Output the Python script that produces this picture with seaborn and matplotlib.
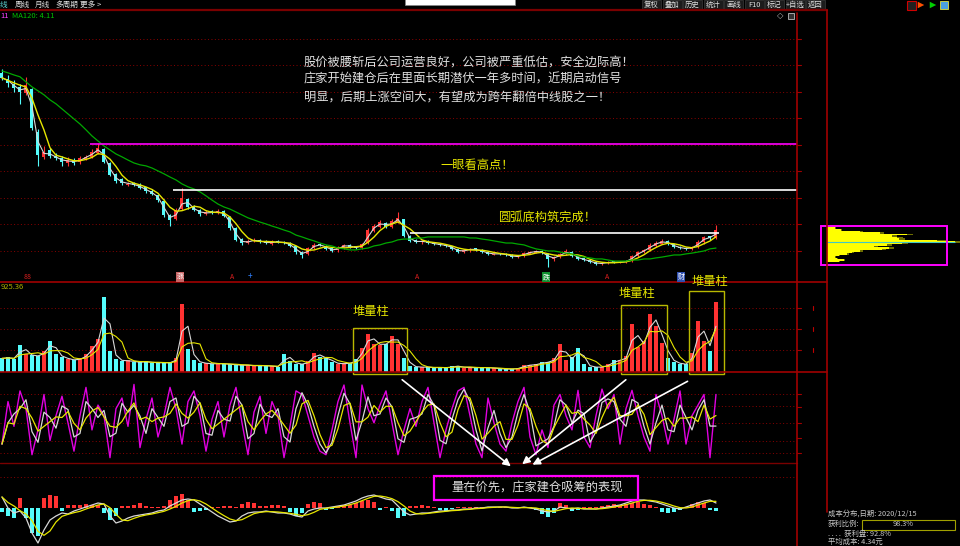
import numpy as np
import pandas as pd
import matplotlib
matplotlib.use("Agg")
import matplotlib.pyplot as plt
from matplotlib.patches import Rectangle
import seaborn as sns

# daily bars (yuan)
opens = [10.70, 10.50, 10.30, 10.20, 9.95, 10.10, 8.50, 7.55, 7.80, 7.60,
         7.50, 7.30, 7.45, 7.35, 7.48, 7.55, 7.70, 7.85, 7.30, 6.90,
         6.70, 6.50, 6.58, 6.50, 6.40, 6.28, 6.10, 5.90, 5.35, 5.20,
         5.60, 5.95, 5.70, 5.55, 5.40, 5.50, 5.45, 5.50, 5.30, 4.85,
         4.45, 4.30, 4.36, 4.42, 4.36, 4.28, 4.38, 4.35, 4.30, 4.18,
         3.98, 3.88, 4.10, 4.25, 4.20, 4.10, 4.02, 4.12, 4.22, 4.18,
         4.12, 4.30, 4.75, 4.90, 5.05, 4.92, 5.10, 5.20, 4.55, 4.40,
         4.32, 4.38, 4.32, 4.28, 4.24, 4.18, 4.06, 3.96, 4.02, 4.10,
         4.04, 3.96, 3.86, 3.92, 3.90, 3.86, 3.76, 3.80, 3.90, 3.94,
         4.00, 3.90, 3.68, 3.76, 3.88, 3.98, 3.80, 3.72, 3.66, 3.58,
         3.50, 3.54, 3.60, 3.56, 3.58, 3.62, 3.80, 3.95, 4.02, 4.20,
         4.28, 4.36, 4.25, 4.16, 4.12, 4.08, 4.14, 4.32, 4.55, 4.48]
closes = [10.53, 10.34, 10.15, 10.00, 10.26, 8.64, 7.62, 7.74, 7.58, 7.51,
          7.36, 7.43, 7.32, 7.51, 7.55, 7.74, 7.89, 7.36, 6.87, 6.64,
          6.57, 6.53, 6.49, 6.38, 6.26, 6.15, 5.92, 5.36, 5.17, 5.55,
          6.00, 5.66, 5.55, 5.40, 5.47, 5.43, 5.51, 5.32, 4.87, 4.42,
          4.30, 4.38, 4.42, 4.34, 4.30, 4.34, 4.34, 4.30, 4.19, 3.96,
          3.85, 4.11, 4.23, 4.23, 4.08, 4.00, 4.15, 4.23, 4.15, 4.11,
          4.26, 4.79, 4.94, 5.09, 4.91, 5.13, 5.25, 4.57, 4.38, 4.34,
          4.38, 4.30, 4.26, 4.23, 4.19, 4.08, 3.96, 4.04, 4.08, 4.04,
          3.96, 3.89, 3.89, 3.89, 3.85, 3.77, 3.81, 3.92, 3.96, 4.00,
          3.92, 3.70, 3.77, 3.89, 4.00, 3.81, 3.70, 3.66, 3.58, 3.51,
          3.55, 3.58, 3.58, 3.58, 3.62, 3.81, 3.96, 4.04, 4.23, 4.30,
          4.38, 4.26, 4.15, 4.11, 4.08, 4.15, 4.34, 4.53, 4.49, 4.79]
highs = [10.85, 10.62, 10.45, 10.30, 10.55, 10.15, 8.60, 7.95, 7.90, 7.70,
         7.60, 7.55, 7.52, 7.60, 7.62, 7.85, 8.08, 7.88, 7.35, 6.95,
         6.75, 6.62, 6.62, 6.55, 6.42, 6.32, 6.12, 5.95, 5.40, 5.62,
         6.38, 5.98, 5.75, 5.60, 5.55, 5.56, 5.58, 5.55, 5.33, 4.90,
         4.48, 4.45, 4.50, 4.46, 4.40, 4.42, 4.42, 4.38, 4.33, 4.20,
         4.00, 4.15, 4.30, 4.30, 4.24, 4.13, 4.20, 4.28, 4.26, 4.20,
         4.30, 4.85, 5.00, 5.15, 5.10, 5.20, 5.47, 5.22, 4.60, 4.44,
         4.42, 4.41, 4.35, 4.30, 4.27, 4.20, 4.08, 4.08, 4.12, 4.12,
         4.06, 3.98, 3.93, 3.94, 3.92, 3.88, 3.84, 3.95, 4.00, 4.04,
         4.02, 3.92, 3.80, 3.92, 4.06, 4.00, 3.82, 3.74, 3.68, 3.60,
         3.58, 3.62, 3.63, 3.61, 3.66, 3.85, 4.00, 4.08, 4.30, 4.36,
         4.45, 4.40, 4.28, 4.18, 4.15, 4.18, 4.40, 4.58, 4.58, 4.98]
lows = [10.45, 10.20, 10.00, 9.55, 9.90, 8.55, 7.20, 7.48, 7.50, 7.42,
        7.20, 7.22, 7.25, 7.28, 7.44, 7.50, 7.65, 7.30, 6.82, 6.58,
        6.50, 6.45, 6.44, 6.33, 6.20, 6.10, 5.85, 5.30, 4.95, 5.15,
        5.55, 5.60, 5.50, 5.32, 5.36, 5.38, 5.40, 5.28, 4.80, 4.38,
        4.22, 4.26, 4.32, 4.30, 4.25, 4.24, 4.30, 4.26, 4.15, 3.90,
        3.72, 3.84, 4.06, 4.18, 4.04, 3.95, 3.98, 4.08, 4.10, 4.06,
        4.08, 4.26, 4.70, 4.86, 4.85, 4.88, 5.05, 4.52, 4.32, 4.30,
        4.28, 4.26, 4.22, 4.19, 4.15, 4.04, 3.92, 3.92, 3.98, 4.00,
        3.92, 3.85, 3.83, 3.86, 3.82, 3.72, 3.72, 3.78, 3.88, 3.92,
        3.88, 3.40, 3.62, 3.72, 3.84, 3.78, 3.66, 3.62, 3.54, 3.46,
        3.48, 3.52, 3.55, 3.53, 3.56, 3.60, 3.78, 3.92, 4.00, 4.16,
        4.25, 4.22, 4.12, 4.06, 4.04, 4.05, 4.12, 4.28, 4.42, 4.45]
ma120 = [10.79, 10.72, 10.64, 10.57, 10.38, 10.19, 10.04, 9.89, 9.70, 9.55,
         9.36, 9.17, 8.98, 8.79, 8.57, 8.34, 8.15, 7.96, 7.81, 7.66,
         7.55, 7.43, 7.32, 7.25, 7.21, 7.13, 7.02, 6.91, 6.79, 6.68,
         6.53, 6.42, 6.34, 6.23, 6.08, 5.92, 5.77, 5.66, 5.58, 5.47,
         5.36, 5.25, 5.17, 5.09, 5.02, 4.94, 4.87, 4.79, 4.72, 4.60,
         4.53, 4.45, 4.38, 4.30, 4.23, 4.19, 4.11, 4.08, 4.04, 4.04,
         4.08, 4.11, 4.19, 4.23, 4.30, 4.34, 4.42, 4.45, 4.45, 4.49,
         4.49, 4.53, 4.53, 4.53, 4.53, 4.53, 4.53, 4.53, 4.49, 4.49,
         4.45, 4.42, 4.38, 4.34, 4.30, 4.30, 4.26, 4.23, 4.15, 4.08,
         4.04, 4.00, 4.00, 3.96, 3.92, 3.89, 3.81, 3.77, 3.74, 3.70,
         3.70, 3.66, 3.62, 3.62, 3.62, 3.66, 3.66, 3.70, 3.70, 3.74,
         3.77, 3.81, 3.85, 3.85, 3.89, 3.92, 3.96, 4.00, 4.08, 4.11]
volume = [140, 150, 130, 280, 180, 170, 160, 220, 320, 180,
          150, 130, 120, 140, 180, 270, 340, 770, 220, 130,
          110, 120, 100, 100, 110, 90, 100, 90, 100, 140,
          700, 240, 120, 90, 90, 80, 90, 80, 80, 70,
          70, 70, 60, 70, 60, 60, 50, 190, 110, 80,
          80, 110, 200, 150, 140, 100, 80, 90, 90, 130,
          250, 390, 290, 280, 290, 370, 290, 140, 60, 50,
          50, 50, 40, 50, 40, 60, 60, 40, 50, 40,
          50, 40, 40, 30, 30, 30, 40, 70, 70, 80,
          100, 100, 140, 290, 120, 150, 250, 80, 50, 50,
          50, 80, 120, 120, 160, 490, 260, 320, 600, 470,
          300, 140, 100, 80, 80, 200, 520, 320, 220, 720]
kdj_j = [15, 87, 45, 105, 75, -3, 39, 99, 21, 63,
         96, 51, 3, 63, 111, 39, 81, 63, -8, 75,
         93, 45, 116, 9, 57, 93, 27, 63, 111, 75,
         15, 87, 105, 63, 3, 57, 87, 27, 81, 111,
         51, -3, 69, 96, 33, 87, 63, -8, 45, 105,
         99, 63, 27, 3, -3, 39, 87, 115, 51, -8,
         115, 75, 51, 81, 105, 51, -3, 39, 75, 45,
         87, 111, 51, -8, 39, 75, 105, 111, 63, 15,
         -8, 93, 51, 15, 3, 51, 87, 111, 27, -3,
         39, 9, 81, 99, 63, 39, 106, 27, 9, 63,
         108, 75, 99, 15, 75, 106, 63, 27, 3, 99,
         63, 15, 57, 105, 15, 63, 81, 99, -8, 99]
macd_dif = [0.11, 0.00, -0.05, -0.03, -0.10, -0.25, -0.35, -0.22, -0.12, -0.08,
            -0.05, -0.06, -0.03, -0.01, 0.01, 0.03, 0.05, 0.04, -0.08, -0.15,
            -0.13, -0.10, -0.08, -0.07, -0.06, -0.05, -0.03, -0.02, 0.02, 0.05,
            0.08, 0.09, 0.08, 0.04, 0.00, -0.04, -0.08, -0.11, -0.14, -0.13,
            -0.08, -0.05, -0.04, -0.04, -0.03, -0.04, -0.05, -0.05, -0.06, -0.08,
            -0.09, -0.03, -0.01, 0.00, 0.00, 0.01, 0.02, 0.03, 0.05, 0.07,
            0.10, 0.12, 0.13, 0.11, 0.09, 0.08, 0.02, -0.04, -0.07, -0.06,
            -0.05, -0.05, -0.04, -0.03, -0.03, -0.02, -0.02, -0.01, -0.01, 0.00,
            0.00, 0.01, 0.01, 0.01, 0.01, 0.00, 0.00, 0.01, 0.00, -0.01,
            -0.03, -0.04, -0.03, 0.01, 0.00, -0.01, 0.00, -0.01, -0.01, -0.01,
            0.00, 0.01, 0.02, 0.03, 0.05, 0.07, 0.08, 0.08, 0.07, 0.06,
            0.04, 0.02, 0.00, -0.01, 0.01, 0.03, 0.05, 0.07, 0.08, 0.05]
macd_bar = [-0.04, -0.08, -0.10, 0.10, -0.10, -0.25, -0.28, 0.10, 0.13, 0.12,
            -0.03, 0.03, 0.03, 0.03, 0.04, 0.03, 0.03, -0.05, -0.12, -0.08,
            0.02, 0.02, 0.03, 0.05, 0.02, 0.01, 0.01, 0.02, 0.08, 0.12,
            0.14, 0.08, -0.04, -0.03, -0.02, 0.01, 0.01, 0.02, 0.02, 0.01,
            0.04, 0.06, 0.05, 0.02, 0.02, 0.03, 0.03, 0.02, -0.04, -0.08,
            -0.05, 0.04, 0.06, 0.05, -0.02, -0.01, 0.02, 0.03, 0.03, 0.05,
            0.07, 0.08, 0.06, -0.02, 0.01, -0.03, -0.10, -0.08, 0.02, 0.02,
            0.03, 0.02, 0.01, -0.02, -0.03, -0.01, 0.01, 0.01, 0.01, 0.01,
            0.01, 0.01, 0.01, 0.01, 0.01, 0.01, 0.01, 0.01, 0.01, -0.02,
            -0.06, -0.09, -0.05, 0.05, 0.03, -0.03, -0.02, 0.01, 0.01, 0.01,
            0.02, 0.03, 0.04, 0.03, 0.04, 0.05, 0.06, 0.04, 0.03, 0.01,
            -0.04, -0.05, -0.04, -0.02, 0.01, 0.04, 0.06, 0.05, -0.02, -0.03]

# chip (cost) distribution on the right
chip_price = [4.87, 4.79, 4.74, 4.68, 4.62, 4.57, 4.51, 4.45, 4.40, 4.34, 4.28, 4.23,
              4.17, 4.11, 4.06, 4.00, 3.94, 3.89, 3.83, 3.77, 3.72, 3.66, 3.60]
chip_amount = [8, 14, 33, 53, 80, 65, 70, 72, 110, 128, 75, 60,
               47, 62, 55, 33, 25, 20, 12, 8, 10, 17, 12]

sns.set_theme(style="dark", rc={"axes.facecolor": "black", "figure.facecolor": "black"})
plt.rcParams["font.family"] = ["Noto Sans CJK SC", "DejaVu Sans"]
plt.rcParams["axes.unicode_minus"] = False

W, H = 960, 546
RED = "#ff3232"
CYAN = "#54fcfc"
GRID = "#8b0000"
FRAME = "#a00000"
YEL = "#e6e600"
TXT = "#e0e0e0"


def px_box(x0, y0, x1, y1):
    return [x0 / W, 1 - y1 / H, (x1 - x0) / W, (y1 - y0) / H]


df = pd.DataFrame({"open": opens, "close": closes, "high": highs, "low": lows,
                   "ma120": ma120, "vol": volume, "j": kdj_j,
                   "dif": macd_dif, "bar": macd_bar})
df["idx"] = np.arange(len(df))
df["color"] = np.where(df["close"] >= df["open"], RED, CYAN)
# bars here are ~3x wider than the original's, so short windows keep the same look
df["ma_fast"] = df["close"].rolling(2, min_periods=1).mean()
df["ma_slow"] = df["close"].rolling(4, min_periods=1).mean()
df["vma_fast"] = df["vol"].rolling(2, min_periods=1).mean()
df["vma_slow"] = df["vol"].rolling(4, min_periods=1).mean()
df["k"] = df["j"].rolling(2, min_periods=1).mean()
df["d"] = df["j"].rolling(3, min_periods=1).mean()
df["dea"] = df["dif"].rolling(3, min_periods=1).mean()

fig = plt.figure(figsize=(9.6, 5.46), dpi=100)
fig.patch.set_facecolor("black")
XLIM = (-0.33, 132.5)


def panel(y0, y1):
    ax = fig.add_axes(px_box(0, y0, 797, y1))
    ax.set_facecolor("black")
    ax.set_xlim(*XLIM)
    ax.set_xticks([])
    ax.set_yticks([])
    for s in ax.spines.values():
        s.set_visible(False)
    return ax


def dotted(ax, levels):
    for lv in levels:
        ax.axhline(lv, color=GRID, lw=0.7, ls=(0, (1, 2.5)), zorder=0)


def tidy(ax):
    ax.set_xlabel("")
    ax.set_ylabel("")
    ax.set_xlim(*XLIM)


# ---- price panel ----
ax = panel(10, 282)
ax.set_ylim(2.83, 13.09)
dotted(ax, [4, 5, 6, 7, 8, 9, 10, 11, 12])
ax.vlines(df["idx"], df["low"], df["high"], colors=df["color"], lw=0.8, zorder=2)
body_lo = df[["open", "close"]].min(axis=1)
body_h = (df["close"] - df["open"]).abs().clip(lower=0.03)
ax.bar(df["idx"], body_h, bottom=body_lo, width=0.5, color=df["color"],
       edgecolor="none", linewidth=0, zorder=3)
sns.lineplot(data=df, x="idx", y="ma_fast", ax=ax, color="#d8d8d8", lw=0.8, zorder=4)
sns.lineplot(data=df, x="idx", y="ma_slow", ax=ax, color=YEL, lw=1.0, zorder=4)
sns.lineplot(data=df, x="idx", y="ma120", ax=ax, color="#00a800", lw=0.9, zorder=4)
ax.hlines(8.04, 14.7, 132.5, color="#ff00ff", lw=1.2, zorder=5)
ax.hlines(6.30, 28.5, 132.5, color="white", lw=1.2, zorder=5)
ax.hlines(4.68, 68.0, 119.5, color="white", lw=1.2, zorder=5)
tidy(ax)

# ---- volume panel ----
axv = panel(282, 372)
axv.set_ylim(0, 925)
dotted(axv, [230, 445, 660])
axv.bar(df["idx"], df["vol"], width=0.6, color=df["color"], edgecolor="none", linewidth=0, zorder=2)
sns.lineplot(data=df, x="idx", y="vma_fast", ax=axv, color="#d8d8d8", lw=0.8, zorder=3)
sns.lineplot(data=df, x="idx", y="vma_slow", ax=axv, color=YEL, lw=0.8, zorder=3)
tidy(axv)

# ---- KDJ panel ----
axk = panel(372, 463)
axk.set_ylim(-17, 137)
dotted(axk, [0, 20, 50, 80, 100])
sns.lineplot(data=df, x="idx", y="j", ax=axk, color="#e000e0", lw=1.0, zorder=2)
sns.lineplot(data=df, x="idx", y="k", ax=axk, color="#d8d8d8", lw=0.9, zorder=3)
sns.lineplot(data=df, x="idx", y="d", ax=axk, color=YEL, lw=0.9, zorder=3)
tidy(axk)

# ---- MACD panel ----
axm = panel(463, 546)
axm.set_ylim(-0.38, 0.45)
dotted(axm, [0.31])
bar_col = np.where(df["bar"] >= 0, RED, CYAN)
axm.bar(df["idx"], df["bar"], width=0.75, color=bar_col, edgecolor="none", linewidth=0, zorder=2)
sns.lineplot(data=df, x="idx", y="dif", ax=axm, color="#d8d8d8", lw=0.9, zorder=3)
sns.lineplot(data=df, x="idx", y="dea", ax=axm, color=YEL, lw=0.9, zorder=3)
tidy(axm)

# ---- chip distribution ----
axc = fig.add_axes(px_box(827, 10, 960, 282))
axc.set_facecolor("black")
axc.set_ylim(2.83, 13.09)
axc.set_xlim(0, 133)
axc.barh(chip_price, [a * 1.08 for a in chip_amount], height=0.058, color="#6e6e00",
         edgecolor="none", linewidth=0, zorder=1)
axc.barh(chip_price, chip_amount, height=0.058, color="#ffff00", edgecolor="none", linewidth=0, zorder=2)
axc.hlines(4.35, 0, 128, color="#40c8c8", lw=0.8, zorder=3)
axc.set_xticks([])
axc.set_yticks([])
for s in axc.spines.values():
    s.set_visible(False)

# ---- overlay in pixel coordinates: frame, texts, arrows ----
ov = fig.add_axes([0, 0, 1, 1], zorder=10)
ov.set_xlim(0, W)
ov.set_ylim(H, 0)
ov.axis("off")
ov.patch.set_alpha(0)

for yy in (282, 372):
    ov.plot([0, 827], [yy, yy], color=FRAME, lw=1.2)
ov.plot([0, 827], [10, 10], color="#7a0000", lw=1.6)
ov.plot([0, 797], [463, 463], color="#7a0000", lw=1.0)
ov.plot([797, 797], [13, 546], color=FRAME, lw=1.2)
ov.plot([827, 827], [10, 512], color=FRAME, lw=1.2)
for yy in (39, 65, 92, 118, 145, 171, 198, 224, 251, 308, 329, 350, 394, 407, 423, 438, 453):
    ov.plot([797, 801], [yy, yy], color=FRAME, lw=0.8)
for yy in (308, 329, 350):
    ov.plot([813, 813], [yy - 2, yy + 2], color="#c00000", lw=0.8)

# toolbar
tb = [("线", 0, "#5fd7d7"), ("周线", 15, TXT), ("月线", 35, TXT), ("多周期", 55, TXT), ("更多 >", 80, TXT)]
for s, x, c in tb:
    ov.text(x, 5, s, color=c, fontsize=5.5, va="center", ha="left")
buttons = ["复权", "叠加", "历史", "统计", "画线", "F10", "标记", "+自选", "返回"]
for i, s in enumerate(buttons):
    x0 = 642 + i * 20.5
    ov.add_patch(Rectangle((x0, 0), 19, 9.5, facecolor="#1c1c1c", edgecolor="#3a3a3a", lw=0.5))
    ov.text(x0 + 9.5, 4.8, s, color=TXT, fontsize=5.3, va="center", ha="center")
ov.add_patch(Rectangle((405, -2), 110, 7, facecolor="white", edgecolor="#888888", lw=0.5))
ov.add_patch(Rectangle((907, 1), 9, 9, facecolor="#202020", edgecolor="#d00000", lw=0.8))
ov.scatter([921, 933], [5, 5], marker=">", s=22, c=["#ff5000", "#00d000"], linewidths=0)
ov.add_patch(Rectangle((940, 1), 8, 8, facecolor="#4aa0e0", edgecolor="#e0e040", lw=0.6))
ov.text(780, 16, "◇", color="#bbbbbb", fontsize=6, va="center", ha="center", family="DejaVu Sans")
ov.add_patch(Rectangle((788, 13), 6, 6, facecolor="#333333", edgecolor="#bbbbbb", lw=0.6))

ov.text(0, 16, "11", color="#ff40ff", fontsize=5.5, va="center", ha="left")
ov.text(12, 16, "MA120: 4.11", color="#00c000", fontsize=5.5, va="center", ha="left")
ov.text(1, 287, "925.36", color="#b0b000", fontsize=5.5, va="center", ha="left")

# signal markers on the price panel bottom
ov.text(28, 277, "88", color="#e02020", fontsize=5, va="center", ha="center")
ov.text(180, 277, "涨", color="white", fontsize=5, va="center", ha="center",
        bbox=dict(boxstyle="square,pad=0.1", facecolor="#c86464", edgecolor="none"))
ov.text(232, 277, "A", color="#e02020", fontsize=5, va="center", ha="center")
ov.text(250, 277, "+", color="#3080ff", fontsize=6, va="center", ha="center")
ov.text(417, 277, "A", color="#e02020", fontsize=5, va="center", ha="center")
ov.text(546, 277, "跌", color="white", fontsize=5, va="center", ha="center",
        bbox=dict(boxstyle="square,pad=0.1", facecolor="#109030", edgecolor="none"))
ov.text(607, 277, "A", color="#e02020", fontsize=5, va="center", ha="center")
ov.text(681, 277, "财", color="white", fontsize=5, va="center", ha="center",
        bbox=dict(boxstyle="square,pad=0.1", facecolor="#3050b0", edgecolor="none"))

# commentary
notes = ["股价被腰斩后公司运营良好，公司被严重低估，安全边际高！",
         "庄家开始建仓后在里面长期潜伏一年多时间，近期启动信号",
         "明显，后期上涨空间大，有望成为跨年翻倍中线股之一！"]
for i, s in enumerate(notes):
    ov.text(304, 62 + i * 17.5, s, color=TXT, fontsize=8.8, va="center", ha="left")
ov.text(440, 165, "一眼看高点！", color=YEL, fontsize=8.8, va="center", ha="left")
ov.text(498, 217, "圆弧底构筑完成！", color=YEL, fontsize=8.8, va="center", ha="left")

# volume piles
for (x0, y0, x1, y1), (tx, ty) in [((353, 328, 407, 374), (353, 312)),
                                   ((621, 305, 667, 374), (619, 293)),
                                   ((689, 291, 724, 374), (692, 282))]:
    ov.add_patch(Rectangle((x0, y0), x1 - x0, y1 - y0, fill=False, edgecolor="#b8b800", lw=1.0))
    ov.text(tx, ty, "堆量柱", color=YEL, fontsize=8.8, va="center", ha="left")

for (sx, sy), (ex, ey) in [((400, 378), (513, 468)), ((628, 378), (520, 466)), ((690, 380), (530, 466))]:
    ov.annotate("", xy=(ex, ey), xytext=(sx, sy),
                arrowprops=dict(arrowstyle="-|>", color="white", lw=1.2, mutation_scale=11))

ov.add_patch(Rectangle((434, 476), 204, 24, fill=False, edgecolor="#ff00ff", lw=1.6))
ov.text(451, 488, "量在价先，庄家建仓吸筹的表现", color=TXT, fontsize=8.8, va="center", ha="left")

# chip box and stats
ov.add_patch(Rectangle((821, 226), 126, 39, fill=False, edgecolor="#ff00ff", lw=1.4))
ov.text(828, 514, "成本分布,日期: 2020/12/15", color="#c8c8c8", fontsize=5.3, va="center", ha="left")
ov.text(828, 524, "获利比例:", color="#c8c8c8", fontsize=5.3, va="center", ha="left")
ov.add_patch(Rectangle((862, 520), 93, 9.5, fill=False, edgecolor="#a0a000", lw=0.8))
ov.text(903, 524.5, "98.3%", color="#c8c8c8", fontsize=5.3, va="center", ha="center")
ov.text(828, 533.5, ". . . .  获利盘: 92.8%", color="#c8c8c8", fontsize=5.3, va="center", ha="left")
ov.text(828, 541.5, "平均成本: 4.34元", color="#c8c8c8", fontsize=5.3, va="center", ha="left")

fig.savefig("out.png", dpi=100, facecolor="black")
